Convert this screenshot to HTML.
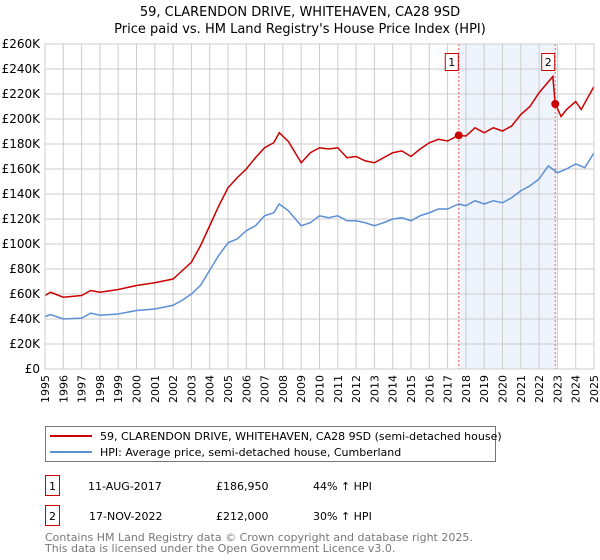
<!DOCTYPE html>
<html><head><meta charset="utf-8"><style>
body{margin:0;background:#fff;font-family:"Liberation Sans","DejaVu Sans",sans-serif;}
svg{display:block}
</style></head><body>
<svg width="600" height="560" xmlns="http://www.w3.org/2000/svg" font-family="DejaVu Sans, Liberation Sans, sans-serif">
<text x="300" y="16" text-anchor="middle" font-size="13">59, CLARENDON DRIVE, WHITEHAVEN, CA28 9SD</text>
<text x="300" y="33" text-anchor="middle" font-size="13">Price paid vs. HM Land Registry's House Price Index (HPI)</text>
<g id="plot"></g>
<g>
<rect x="45.5" y="426.5" width="450" height="35" fill="#fff" stroke="#777"/>
<line x1="50" y1="436" x2="92" y2="436" stroke="#cc0000" stroke-width="2"/>
<text x="100" y="440" font-size="11">59, CLARENDON DRIVE, WHITEHAVEN, CA28 9SD (semi-detached house)</text>
<line x1="50" y1="452" x2="92" y2="452" stroke="#5b8fd6" stroke-width="2"/>
<text x="100" y="456" font-size="11">HPI: Average price, semi-detached house, Cumberland</text>
</g>
<g font-size="11">
<rect x="45.5" y="475.5" width="14" height="20" fill="#fff" stroke="#cc0000"/><text x="52.5" y="490" text-anchor="middle">1</text>
<text x="88" y="490">11-AUG-2017</text><text x="216" y="490">£186,950</text><text x="313" y="490">44% ↑ HPI</text>
<rect x="45.5" y="505.5" width="14" height="20" fill="#fff" stroke="#cc0000"/><text x="52.5" y="520" text-anchor="middle">2</text>
<text x="89" y="520">17-NOV-2022</text><text x="216" y="520">£212,000</text><text x="313" y="520">30% ↑ HPI</text>
</g>
<text x="45" y="541" font-size="11" fill="#777">Contains HM Land Registry data © Crown copyright and database right 2025.</text>
<text x="45" y="552" font-size="11" fill="#777">This data is licensed under the Open Government Licence v3.0.</text>
</svg>
<script>
const years=[1995,1996,1997,1998,1999,2000,2001,2002,2003,2004,2005,2006,2007,2008,2009,2010,2011,2012,2013,2014,2015,2016,2017,2018,2019,2020,2021,2022,2023,2024,2025];
const yTicks=[0,20000,40000,60000,80000,100000,120000,140000,160000,180000,200000,220000,240000,260000];
const hpiT=[1995,1995.3,1996,1997,1997.5,1998,1999,2000,2001,2002,2002.5,2003,2003.5,2004,2004.5,2005,2005.5,2006,2006.5,2007,2007.5,2007.8,2008.3,2009,2009.5,2010,2010.5,2011,2011.5,2012,2012.5,2013,2013.5,2014,2014.5,2015,2015.5,2016,2016.5,2017,2017.6,2018,2018.5,2019,2019.5,2020,2020.5,2021,2021.5,2022,2022.5,2023,2023.5,2024,2024.5,2025];
const hpiV=[42,43.6,40,40.7,44.7,43,44,46.8,48,51,55,60,67,79,91,101,104,110.6,114.6,122.6,125,132,126.6,114.6,117,122.6,121,122.6,118.6,118.6,117,114.6,117,120,121,118.6,122.6,125,128,128,132,130.6,134.6,132,134.6,133,137,142.6,146.5,152,162.5,157,160,164,161,173];
const ppT=[1995,1995.3,1996,1997,1997.5,1998,1999,2000,2001,2002,2002.5,2003,2003.5,2004,2004.5,2005,2005.5,2006,2006.5,2007,2007.5,2007.8,2008.3,2009,2009.5,2010,2010.5,2011,2011.5,2012,2012.5,2013,2013.5,2014,2014.5,2015,2015.5,2016,2016.5,2017,2017.6,2018,2018.5,2019,2019.5,2020,2020.5,2021,2021.5,2022,2022.75,2022.88,2023.2,2023.5,2024,2024.3,2025];
const ppV=[58.8,61.4,57.4,58.8,62.8,61.4,63.6,66.8,69,72,78.7,85.4,98.7,114.6,130.6,145,153,160,169,177,181,189,182,165,173,177,176,177,169,170,166.5,165,169,173,174.5,170,176,181,183.8,182.4,187,186.4,193,189,193,190.4,194.4,203.6,210,221,234,212.5,202,207.6,214,207.6,226];
const saleT=[2017.61,2022.88];
const saleV=[186950,212000];
const saleLabels=["1","2"];
const X0=45,X1=594,Y0=369,Y1=44;
const xs=t=>X0+(t-1995)/(2025-1995)*(X1-X0);
const ys=v=>Y0-v/260000*(Y0-Y1);
const NS="http://www.w3.org/2000/svg";
const g=document.getElementById('plot');
function mk(tag,attrs,parent){const e=document.createElementNS(NS,tag);for(const k in attrs)e.setAttribute(k,attrs[k]);(parent||g).appendChild(e);return e;}
const shade=mk('rect',{x:xs(saleT[0]),y:Y1,width:xs(saleT[1])-xs(saleT[0]),height:Y0-Y1,fill:'#eef3fc'});


years.forEach(y=>{
  const l=mk('line',{x1:xs(y),x2:xs(y),y1:Y1,y2:Y0,stroke:'#ccc'});
  
  
  const t=mk('text',{x:0,y:0,'font-size':11,'text-anchor':'end',transform:`translate(${xs(y)+4},${Y0+6}) rotate(-90)`});
  t.textContent=y;
  
  
});
yTicks.forEach(v=>{
  const l=mk('line',{x1:X0,x2:X1,y1:ys(v),y2:ys(v),stroke:'#ccc'});
  
  
  const t=mk('text',{x:X0-5,y:ys(v)+4,'font-size':12,'text-anchor':'end'});
  t.textContent='£'+(v===0?'0':(v/1000)+'K');
  
  
});
saleT.forEach((t,i)=>{
  const l=mk('line',{x1:xs(t),x2:xs(t),y1:Y1,y2:Y0,stroke:'#e06060','stroke-dasharray':'2,2'});
  
  
  const r=mk('rect',{x:xs(t)-13.5,y:53.5,width:13,height:17,fill:'#fff',stroke:'#cc0000'});
  
  
  const tx=mk('text',{x:xs(t)-7,y:66,'font-size':11,'text-anchor':'middle'});
  tx.textContent=saleLabels[i];
  
  
});
const hp=mk('polyline',{points:hpiT.map((t,i)=>xs(t)+','+ys(hpiV[i]*1000)).join(' '),fill:'none',stroke:'#5b8fd6','stroke-width':1.5});


const pp=mk('polyline',{points:ppT.map((t,i)=>xs(t)+','+ys(ppV[i]*1000)).join(' '),fill:'none',stroke:'#cc0000','stroke-width':1.5});


saleT.forEach((t,i)=>{
  const c=mk('circle',{cx:xs(t),cy:ys(saleV[i]),r:4,fill:'#cc0000'});
  
  
});
const ax=mk('rect',{x:X0,y:Y1,width:X1-X0,height:Y0-Y1,fill:'none',stroke:'#ccc'});


</script>
</body></html>
